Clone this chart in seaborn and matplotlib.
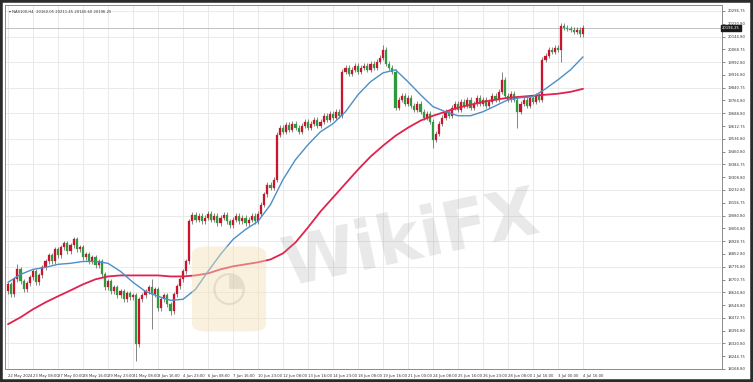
import matplotlib
matplotlib.use("Agg")
import matplotlib.pyplot as plt
from matplotlib.patches import Rectangle, FancyBboxPatch
import numpy as np
import pandas as pd
import seaborn as sns

# ---------------- data ----------------
closes = [18672,18613,18702,18761,18690,18642,18678,18714,18749,18684,
          18725,18773,18808,18844,18808,18880,18844,18891,18915,18868,
          18903,18939,18880,18891,18832,18850,18808,18832,18785,18808,
          18731,18654,18690,18630,18654,18607,18630,18583,18619,18595,
          18607,18316,18583,18607,18630,18654,18613,18642,18530,18583,
          18607,18553,18512,18613,18660,18702,18749,18808,19046,19087,
          19057,19081,19046,19069,19093,19057,19081,19034,19069,19087,
          19046,19022,19057,19081,19046,19069,19034,19057,19081,19046,
          19093,19146,19206,19265,19247,19295,19562,19603,19579,19621,
          19591,19627,19603,19579,19615,19639,19603,19627,19650,19615,
          19639,19674,19650,19686,19662,19698,19674,19935,19959,19923,
          19947,19971,19935,19959,19971,19947,19983,19959,19994,20018,
          20066,19983,19959,19935,19722,19769,19793,19745,19781,19733,
          19710,19745,19698,19662,19686,19639,19532,19567,19627,19662,
          19698,19674,19722,19745,19710,19757,19733,19769,19722,19745,
          19781,19745,19769,19733,19757,19793,19769,19816,19888,19793,
          19769,19805,19769,19698,19745,19769,19733,19781,19757,19793,
          19769,20006,20030,20066,20054,20077,20066,20208,20196,20190,
          20184,20172,20184,20160,20196]

opens = [18630,18672,18613,18702,18761,18690,18642,18678,18714,18749,
         18684,18725,18773,18808,18844,18808,18880,18844,18891,18915,
         18868,18903,18939,18880,18891,18832,18850,18808,18832,18785,
         18808,18731,18654,18690,18630,18654,18607,18630,18583,18619,
         18595,18607,18316,18583,18607,18630,18654,18613,18642,18530,
         18583,18607,18553,18512,18613,18660,18702,18749,18808,19046,
         19087,19057,19081,19046,19069,19093,19057,19081,19034,19069,
         19087,19046,19022,19057,19081,19046,19069,19034,19057,19081,
         19046,19093,19146,19206,19265,19247,19295,19562,19603,19579,
         19621,19591,19627,19603,19579,19615,19639,19603,19627,19650,
         19615,19639,19674,19650,19686,19662,19698,19674,19935,19959,
         19923,19947,19971,19935,19959,19971,19947,19983,19959,19994,
         20018,20066,19983,19959,19935,19722,19769,19793,19745,19781,
         19733,19710,19745,19698,19662,19686,19639,19532,19567,19627,
         19662,19698,19674,19722,19745,19710,19757,19733,19769,19722,
         19745,19781,19745,19769,19733,19757,19793,19769,19816,19888,
         19793,19769,19805,19769,19698,19745,19769,19733,19781,19757,
         19793,19769,20006,20030,20066,20054,20077,20066,20208,20196,
         20190,20184,20172,20184,20160]

highs = [18687,18687,18717,18790,18776,18705,18693,18729,18764,18764,
         18740,18788,18823,18859,18859,18895,18895,18906,18930,18930,
         18918,18954,18954,18906,18906,18865,18865,18847,18847,18823,
         18823,18746,18705,18705,18669,18669,18645,18645,18634,18634,
         18622,18622,18598,18622,18645,18669,18702,18657,18657,18598,
         18622,18622,18568,18628,18675,18717,18764,18823,19061,19102,
         19102,19096,19096,19084,19108,19108,19096,19096,19084,19102,
         19102,19061,19072,19096,19096,19084,19084,19072,19096,19096,
         19108,19161,19221,19280,19280,19310,19577,19618,19618,19636,
         19636,19642,19642,19618,19630,19654,19654,19642,19665,19665,
         19654,19689,19689,19701,19701,19713,19713,19950,19974,19974,
         19962,19986,19986,19974,19986,19986,19998,19998,20009,20033,
         20095,20081,19998,19974,19950,19784,19808,19808,19796,19796,
         19748,19760,19760,19713,19701,19701,19654,19582,19642,19677,
         19713,19713,19737,19760,19760,19772,19772,19784,19784,19760,
         19796,19796,19784,19784,19772,19808,19808,19831,19935,19903,
         19808,19820,19820,19784,19760,19784,19784,19796,19796,19808,
         19808,20021,20045,20081,20081,20092,20092,20223,20223,20211,
         20205,20199,20199,20199,20211]

lows = [18615,18598,18598,18687,18675,18627,18627,18663,18699,18669,
        18669,18710,18758,18793,18793,18793,18829,18829,18876,18853,
        18853,18888,18865,18865,18817,18817,18793,18793,18770,18770,
        18716,18639,18639,18615,18615,18592,18592,18568,18568,18580,
        18580,18215,18301,18568,18592,18615,18405,18598,18515,18515,
        18568,18538,18490,18497,18598,18645,18687,18734,18793,19031,
        19042,19042,19031,19031,19054,19042,19042,19019,19019,19054,
        19031,19007,19007,19042,19031,19031,19019,19019,19042,19031,
        19031,19078,19131,19191,19232,19232,19280,19547,19564,19564,
        19576,19576,19588,19564,19564,19600,19588,19588,19612,19600,
        19600,19624,19635,19635,19647,19647,19659,19659,19920,19908,
        19908,19932,19920,19920,19944,19932,19932,19944,19944,19979,
        20003,19968,19944,19920,19707,19707,19754,19730,19730,19718,
        19695,19695,19683,19647,19647,19624,19484,19517,19552,19612,
        19647,19659,19659,19707,19695,19695,19718,19718,19707,19707,
        19730,19730,19730,19718,19718,19742,19754,19754,19801,19778,
        19754,19754,19754,19603,19683,19730,19718,19718,19742,19742,
        19754,19754,19991,20015,20039,20039,20051,19994,20181,20175,
        20169,20157,20157,20145,20145]

# moving averages, sampled every 4 bars
ma_bars = list(range(0, 185, 4))
ma_fast = [18684,18731,18761,18773,18791,18797,18808,18808,18797,18749,
           18684,18630,18601,18577,18583,18642,18749,18850,18939,18998,
           19046,19146,19295,19413,19502,19579,19627,19698,19799,19876,
           19929,19947,19876,19799,19728,19698,19674,19674,19698,19733,
           19769,19781,19787,19834,19888,19947,20024]
ma_slow = [18435,18476,18524,18565,18601,18636,18672,18702,18719,18725,
           18725,18725,18725,18719,18719,18725,18737,18761,18779,18791,
           18803,18820,18856,18921,19010,19105,19188,19271,19354,19431,
           19496,19555,19603,19645,19674,19698,19722,19739,19757,19769,
           19781,19787,19793,19799,19805,19816,19834]

price_ticks = [20296.75, 20220.80, 20144.80, 20068.75, 19992.80, 19916.80,
               19840.75, 19764.80, 19688.80, 19612.75, 19536.80, 19460.80,
               19384.75, 19308.80, 19232.80, 19156.75, 19080.80, 19004.80,
               18928.75, 18852.80, 18776.80, 18700.75, 18624.80, 18548.80,
               18472.75, 18396.80, 18320.80, 18244.75, 18168.80]

time_labels = ["22 May 2024", "23 May 08:00", "27 May 00:00", "28 May 16:00",
               "29 May 23:00", "31 May 08:00", "3 Jun 16:00", "4 Jun 23:00",
               "6 Jun 08:00", "7 Jun 16:00", "10 Jun 23:00", "12 Jun 08:00",
               "13 Jun 16:00", "14 Jun 23:00", "18 Jun 08:00", "19 Jun 16:00",
               "21 Jun 00:00", "24 Jun 08:00", "25 Jun 16:00", "26 Jun 23:00",
               "28 Jun 08:00", "1 Jul 16:00", "3 Jul 00:00", "4 Jul 16:00"]
time_label_bars = list(range(0, 185, 8))

current_price = 20196.25
header = "\u25BE NAS100,H4  20160.05 20211.45 20145.60 20196.25"

# ---------------- styling ----------------
sns.set_theme(style="white")
plt.rcParams['font.family'] = ['Liberation Sans Narrow', 'DejaVu Sans']

BULL = "#c8142c"
BEAR = "#2e9a3c"
WICK = "#555555"
FAST = "#4b8fc6"
SLOW = "#e0224f"
TXT = "#333333"
FS = 2.7

W, H = 753, 382
fig = plt.figure(figsize=(W / 100, H / 100), dpi=100)
fig.patch.set_facecolor("white")

L, R, T, B = 5, 722, 5, 369
ax = fig.add_axes([L / W, 1 - B / H, (R - L) / W, (B - T) / H])
ax.set_facecolor("white")

df = pd.DataFrame({"open": opens, "high": highs, "low": lows, "close": closes})
df["bar"] = np.arange(len(df))
up = df["close"] >= df["open"]

# grid
for xb in time_label_bars:
    ax.axvline(xb, color="#e6e6e6", lw=0.6, zorder=0)
for yv in price_ticks[::2]:
    ax.axhline(yv, color="#e6e6e6", lw=0.6, zorder=0)

# wicks
ax.vlines(df["bar"], df["low"], df["high"], color=WICK, lw=0.5, zorder=2)
# bodies
bw = 0.66
for sel, col in ((up, BULL), (~up, BEAR)):
    d = df[sel]
    bottoms = np.minimum(d["open"], d["close"])
    heights = np.maximum(np.abs(d["close"] - d["open"]), 1.5)
    ax.bar(d["bar"], heights, bottom=bottoms, width=bw, color=col,
           edgecolor=col, linewidth=0.2, zorder=3)

# moving averages
ma_df = pd.DataFrame({"bar": ma_bars, "fast": ma_fast, "slow": ma_slow})
sns.lineplot(data=ma_df, x="bar", y="slow", ax=ax, color=SLOW, lw=1.3, zorder=4)
sns.lineplot(data=ma_df, x="bar", y="fast", ax=ax, color=FAST, lw=1.0, zorder=4)

# current price line
ax.axhline(current_price, color="#b8b8b8", lw=0.6, zorder=1)

bar_px = 3.125
ax.set_xlim(-(8 - L) / bar_px, (R - 8) / bar_px)
y_top = 20296.75 + (11 - T) * 5.927
y_bot = 20296.75 - (B - 11) * 5.927
ax.set_ylim(y_bot, y_top)

ax.set_xlabel("")
ax.set_ylabel("")
ax.yaxis.tick_right()
ax.set_yticks(price_ticks)
ax.set_yticklabels([f"{v:.2f}" for v in price_ticks], fontsize=FS, color=TXT)
ax.tick_params(axis="y", length=2, width=0.4, pad=2, colors=TXT)
ax.set_xticks(time_label_bars)
ax.set_xticklabels(time_labels, fontsize=FS, color=TXT, ha="left")
ax.tick_params(axis="x", length=2, width=0.4, pad=1.5, colors=TXT)
for s in ax.spines.values():
    s.set_color("#8a8a8a")
    s.set_linewidth(0.7)

# current price tag on the right axis
ax.text(1.0, current_price, f"{current_price:.2f}", transform=ax.get_yaxis_transform(),
        fontsize=FS, color="white", va="center", ha="left",
        bbox=dict(boxstyle="square,pad=0.3", fc="#1a1a1a", ec="#1a1a1a"))

# header
ax.text(0.006, 0.985, header, transform=ax.transAxes, fontsize=FS,
        color=TXT, va="top", ha="left")

# watermark
logo = FancyBboxPatch((195 / W, 1 - 330 / H), 68 / W, 82 / H,
                      boxstyle="round,pad=0.004,rounding_size=0.02",
                      transform=fig.transFigure, fc="#f3dfb5", ec="none",
                      alpha=0.45, zorder=5)
fig.patches.append(logo)
fig.text(229 / W, 1 - 288 / H, "\u25D4", fontsize=30, color="#9a9a9a",
         alpha=0.35, ha="center", va="center", family="DejaVu Sans")
fig.text(410 / W, 1 - 240 / H, "WikiFX", fontsize=48, fontweight="bold",
         color="#9a9a9a", alpha=0.22, ha="center", va="center", rotation=12,
         family="DejaVu Sans")

# outer dark frame
fig.patches.append(Rectangle((0, 0), 1, 1, transform=fig.transFigure,
                             fill=False, ec="#2b2b2b", lw=4, zorder=10))

fig.savefig("out.png", dpi=100)
